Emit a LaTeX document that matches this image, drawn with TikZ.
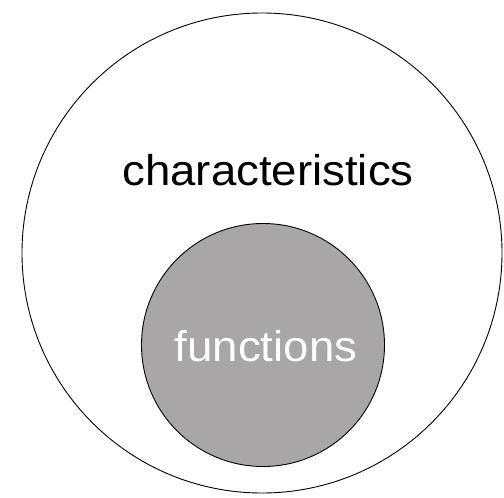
\documentclass[tikz,border=0pt]{standalone}
\usepackage{fontspec}
\setmainfont{Liberation Sans}
\definecolor{fngray}{RGB}{168,166,166}
\begin{document}
\begin{tikzpicture}[x=1pt,y=-1pt,
  ring/.style={circle, draw=black, line width=0.9pt, inner sep=0pt},
  lbl/.style={inner sep=0pt, anchor=base, font=\fontsize{43}{50}\selectfont, xscale=1.06, transform shape}]
\useasboundingbox (0,0) rectangle (504,498);
\node[ring, minimum size=480pt] (outer) at (262,253) {};
\node[ring, fill=fngray, minimum size=243pt] (inner) at (263,345) {};
\node[lbl, text=black] (char) at (268,185) {characteristics};
\node[lbl, text=white] (func) at (266,361) {functions};
\end{tikzpicture}
\end{document}
